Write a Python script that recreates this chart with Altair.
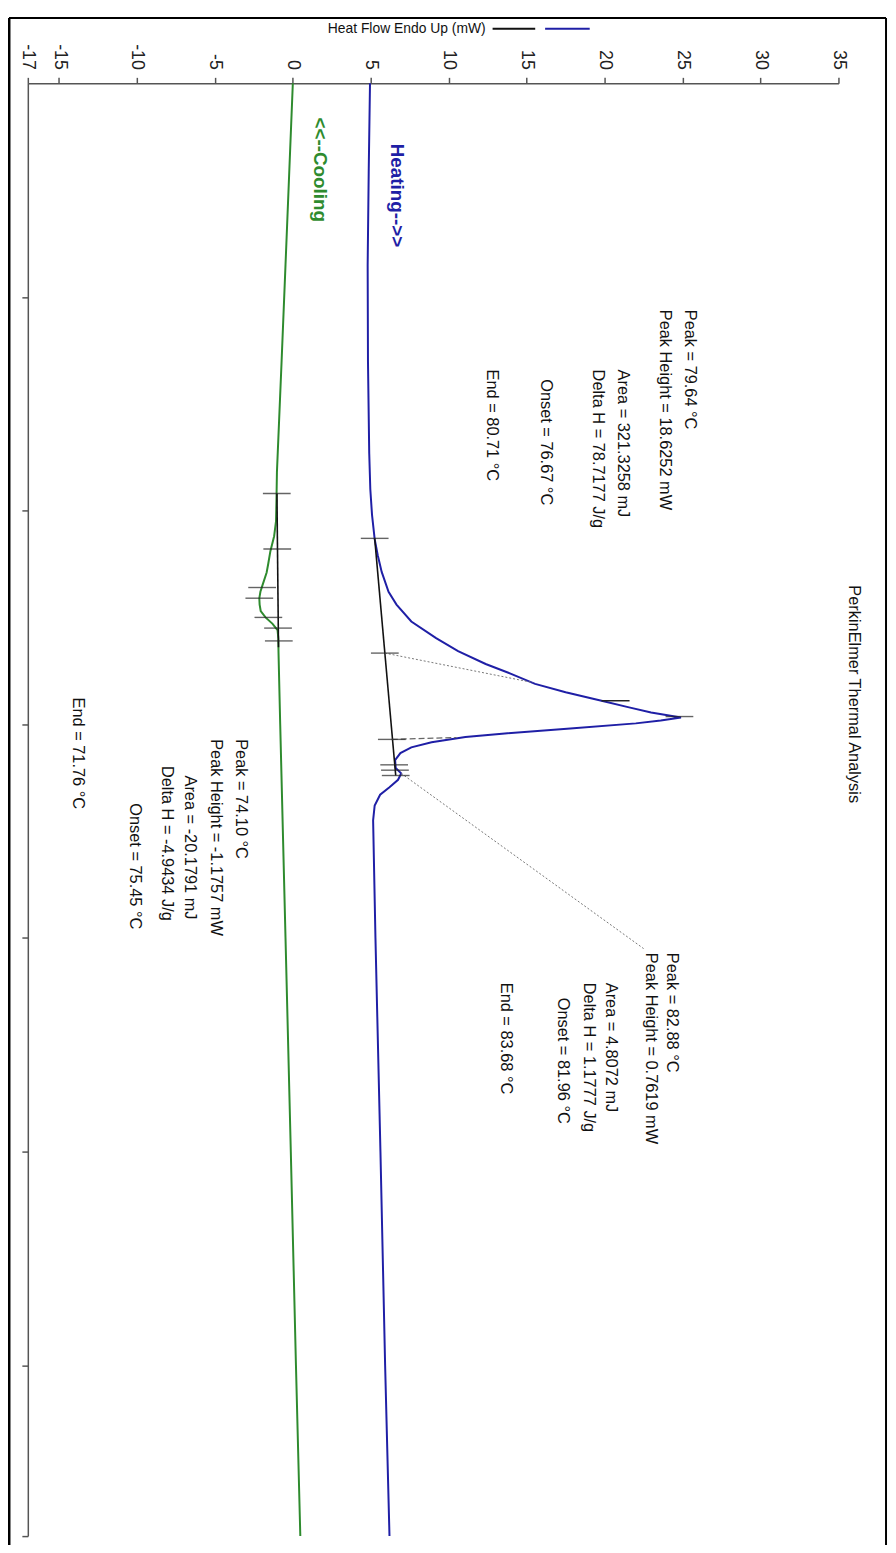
import altair as alt
import pandas as pd

# ---------------- data ----------------
# Heating curve (blue): temperature (deg C) and heat flow (mW)
heat_T = [50, 54, 58.5, 63, 67.3, 69.0, 70.2, 71.34, 72.1, 72.87, 73.8, 74.4, 75.19, 75.97,
          76.58, 77.18, 77.64, 78.11, 78.5, 78.9, 79.2, 79.45, 79.68, 79.82, 79.96, 80.2,
          80.43, 80.6, 80.84, 81.08, 81.35, 81.68, 82.05, 82.3, 82.6, 82.95, 83.3, 83.8,
          84.5, 90, 100, 110, 118]
heat_HF = [4.95, 4.87, 4.8, 4.82, 4.9, 4.97, 5.08, 5.25, 5.45, 5.7, 6.14, 6.65, 7.6, 9.19,
           10.6, 12.37, 14.0, 15.54, 17.5, 19.8, 21.5, 22.98, 24.9, 23.6, 22.0, 17.8,
           13.6, 11.07, 8.9, 7.6, 6.9, 6.56, 6.6, 6.95, 6.75, 6.2, 5.6, 5.25,
           5.15, 5.3, 5.62, 5.92, 6.2]

# Cooling curve (green)
cool_T = [50, 58.5, 63, 68.2, 69.5, 70.5, 71.2, 71.9, 72.5, 72.9, 73.5, 73.8, 74.1, 74.4,
          74.7, 75.0, 75.3, 75.6, 76.0, 76.6, 80, 90, 100, 110, 118]
cool_HF = [0.0, -0.47, -0.72, -1.02, -1.05, -1.08, -1.2, -1.44, -1.58, -1.68, -1.95, -2.08,
           -2.15, -2.13, -2.06, -1.75, -1.3, -0.98, -0.93, -0.92, -0.81, -0.47, -0.13, 0.2, 0.48]

# Integration baselines
heat_base_T = [71.3, 82.4]
heat_base_HF = [5.25, 6.6]
cool_base_T = [69.2, 76.4]
cool_base_HF = [-1.02, -0.92]

# Cross markers (limits / peaks)
cross_T = [71.3, 76.67, 80.71, 79.64, 81.9, 82.15, 82.4,
           69.2, 71.8, 73.6, 74.1, 75.0, 75.5, 76.1]
cross_HF = [5.25, 5.9, 6.35, 24.8, 6.5, 6.55, 6.6,
            -1.03, -1.0, -1.97, -2.15, -1.57, -0.95, -0.9]

# Construction lines
onset_T = [76.67, 78.05]
onset_HF = [5.9, 15.4]
end_T = [80.71, 80.62]
end_HF = [6.35, 10.5]
leader_T = [82.3, 90.5]
leader_HF = [6.95, 22.5]
tangent_T = [78.9]
tangent_HF = [19.8]
tangent_HF2 = [21.6]

# Annotation texts
ann_text = ["Peak = 79.64 °C", "Peak Height = 18.6252 mW", "Area = 321.3258 mJ",
            "Delta H = 78.7177 J/g", "Onset = 76.67 °C", "End = 80.71 °C",
            "Peak = 74.10 °C", "Peak Height = -1.1757 mW", "Area = -20.1791 mJ",
            "Delta H = -4.9434 J/g", "Onset = 75.45 °C", "End = 71.76 °C",
            "Peak = 82.88 °C", "Peak Height = 0.7619 mW", "Area = 4.8072 mJ",
            "Delta H = 1.1777 J/g", "Onset = 81.96 °C", "End = 83.68 °C",
            "PerkinElmer Thermal Analysis"]
ann_HF = [25.5, 23.9, 21.15, 19.55, 16.25, 12.75,
          -3.3, -4.9, -6.6, -8.1, -10.1, -13.8,
          24.35, 22.95, 20.4, 19.0, 17.35, 13.7,
          36.02]
ann_T = [60.6, 60.6, 63.4, 63.4, 63.85, 63.4,
         80.7, 80.7, 82.4, 81.95, 83.7, 78.75,
         90.7, 90.7, 92.1, 92.1, 92.8, 92.1,
         73.5]

dir_text = ["Heating-->>", "<<--Cooling"]
dir_HF = [6.7, 1.75]
dir_T = [52.83, 51.6]
dir_color = ["#1f1fa6", "#2e8b2e"]

x_ticks = [-17, -15, -10, -5, 0, 5, 10, 15, 20, 25, 30, 35]
y_ticks = [60, 70, 80, 90, 100, 110, 118]

# ---------------- chart ----------------
FONT = "Liberation Sans"
BLUE = "#1f1fa6"
GREEN = "#2e8b2e"

xs = alt.Scale(domain=[-17, 35], nice=False, zero=False)
ys = alt.Scale(domain=[50, 118], reverse=True, nice=False, zero=False)

heat = pd.DataFrame({"T": heat_T, "HF": heat_HF})
cool = pd.DataFrame({"T": cool_T, "HF": cool_HF})

X = alt.X("HF:Q", scale=xs,
          axis=alt.Axis(orient="top", values=x_ticks, labelAngle=90, labelAlign="right",
                        labelBaseline="middle", title=None, tickSize=6, labelPadding=8,
                        grid=False, domainColor="#555", tickColor="#555", labelColor="#222",
                        labelFontSize=18, labelFont=FONT, domainWidth=1.5, tickWidth=1.5,
                        labelOverlap=False, labelExpr="toString(datum.value)"))
Y = alt.Y("T:Q", scale=ys,
          axis=alt.Axis(orient="left", values=y_ticks, labels=False, title=None, tickSize=6,
                        grid=False, domainColor="#555", tickColor="#555", domainWidth=1.5,
                        tickWidth=1.5))

heat_line = alt.Chart(heat).mark_line(color=BLUE, strokeWidth=2).encode(
    x=X, y=Y, order="T:Q")
cool_line = alt.Chart(cool).mark_line(color=GREEN, strokeWidth=2).encode(
    x="HF:Q", y="T:Q", order="T:Q")

def seg(Ts, HFs):
    return pd.DataFrame({"T": Ts, "HF": HFs})

base_lines = alt.Chart(pd.concat([
    seg(heat_base_T, heat_base_HF).assign(g="h"),
    seg(cool_base_T, cool_base_HF).assign(g="c")])).mark_line(
    color="#111", strokeWidth=1.6).encode(x="HF:Q", y="T:Q", detail="g:N", order="T:Q")

dotted = alt.Chart(pd.concat([
    seg(onset_T, onset_HF).assign(g="o"),
    seg(leader_T, leader_HF).assign(g="l")])).mark_line(
    color="#777", strokeWidth=1, strokeDash=[2, 2]).encode(
    x="HF:Q", y="T:Q", detail="g:N", order="HF:Q")

dashed = alt.Chart(seg(end_T, end_HF)).mark_line(
    color="#666", strokeWidth=1.2, strokeDash=[6, 3]).encode(x="HF:Q", y="T:Q", order="HF:Q")

tangent = alt.Chart(pd.DataFrame({"T": tangent_T, "HF": tangent_HF, "HF2": tangent_HF2})).mark_rule(
    color="#222", strokeWidth=1.5).encode(x="HF:Q", x2="HF2:Q", y="T:Q")

crosses = alt.Chart(pd.DataFrame({"T": cross_T, "HF": cross_HF})).mark_tick(
    orient="horizontal", size=28, thickness=1.4, color="#222").encode(x="HF:Q", y="T:Q")

ann = alt.Chart(pd.DataFrame({"T": ann_T, "HF": ann_HF, "txt": ann_text})).mark_text(
    angle=90, align="left", baseline="middle", fontSize=16.5, font=FONT, color="#111").encode(
    x="HF:Q", y="T:Q", text="txt:N")

dirs = alt.Chart(pd.DataFrame({"T": dir_T, "HF": dir_HF, "txt": dir_text, "c": dir_color})).mark_text(
    angle=90, align="left", baseline="middle", fontSize=19, font=FONT, fontWeight="bold").encode(
    x="HF:Q", y="T:Q", text="txt:N", color=alt.Color("c:N", scale=None))

one = pd.DataFrame({"k": [0]})
legend_text = alt.Chart(one).mark_text(
    text="Heat Flow Endo Up (mW)", align="right", baseline="middle", fontSize=14,
    font=FONT, color="#111").encode(x=alt.value(462), y=alt.value(-55))
legend_black = alt.Chart(one).mark_rule(color="#111", strokeWidth=2).encode(
    x=alt.value(469), x2=alt.value(512), y=alt.value(-55))
legend_blue = alt.Chart(one).mark_rule(color=BLUE, strokeWidth=2).encode(
    x=alt.value(522), x2=alt.value(567), y=alt.value(-55))

frame_left = alt.Chart(one).mark_rule(color="#000", strokeWidth=3).encode(
    x=alt.value(-19), y=alt.value(-66), y2=alt.value(1480))
frame_top = alt.Chart(one).mark_rule(color="#000", strokeWidth=2).encode(
    x=alt.value(-19), x2=alt.value(866), y=alt.value(-66))
frame_right = alt.Chart(one).mark_rule(color="#000", strokeWidth=2).encode(
    x=alt.value(866), y=alt.value(-66), y2=alt.value(1480))

chart = alt.layer(
    heat_line, cool_line, base_lines, dotted, dashed, tangent, crosses, ann, dirs,
    legend_text, legend_black, legend_blue, frame_left, frame_top, frame_right
).properties(
    width=818, height=1466,
    autosize=alt.AutoSizeParams(type="none"),
    padding={"left": 20, "top": 69, "right": 50, "bottom": 2},
    background="white"
).configure_view(stroke=None)

chart.save("out.html", embed_options={"renderer": "svg", "actions": False})
